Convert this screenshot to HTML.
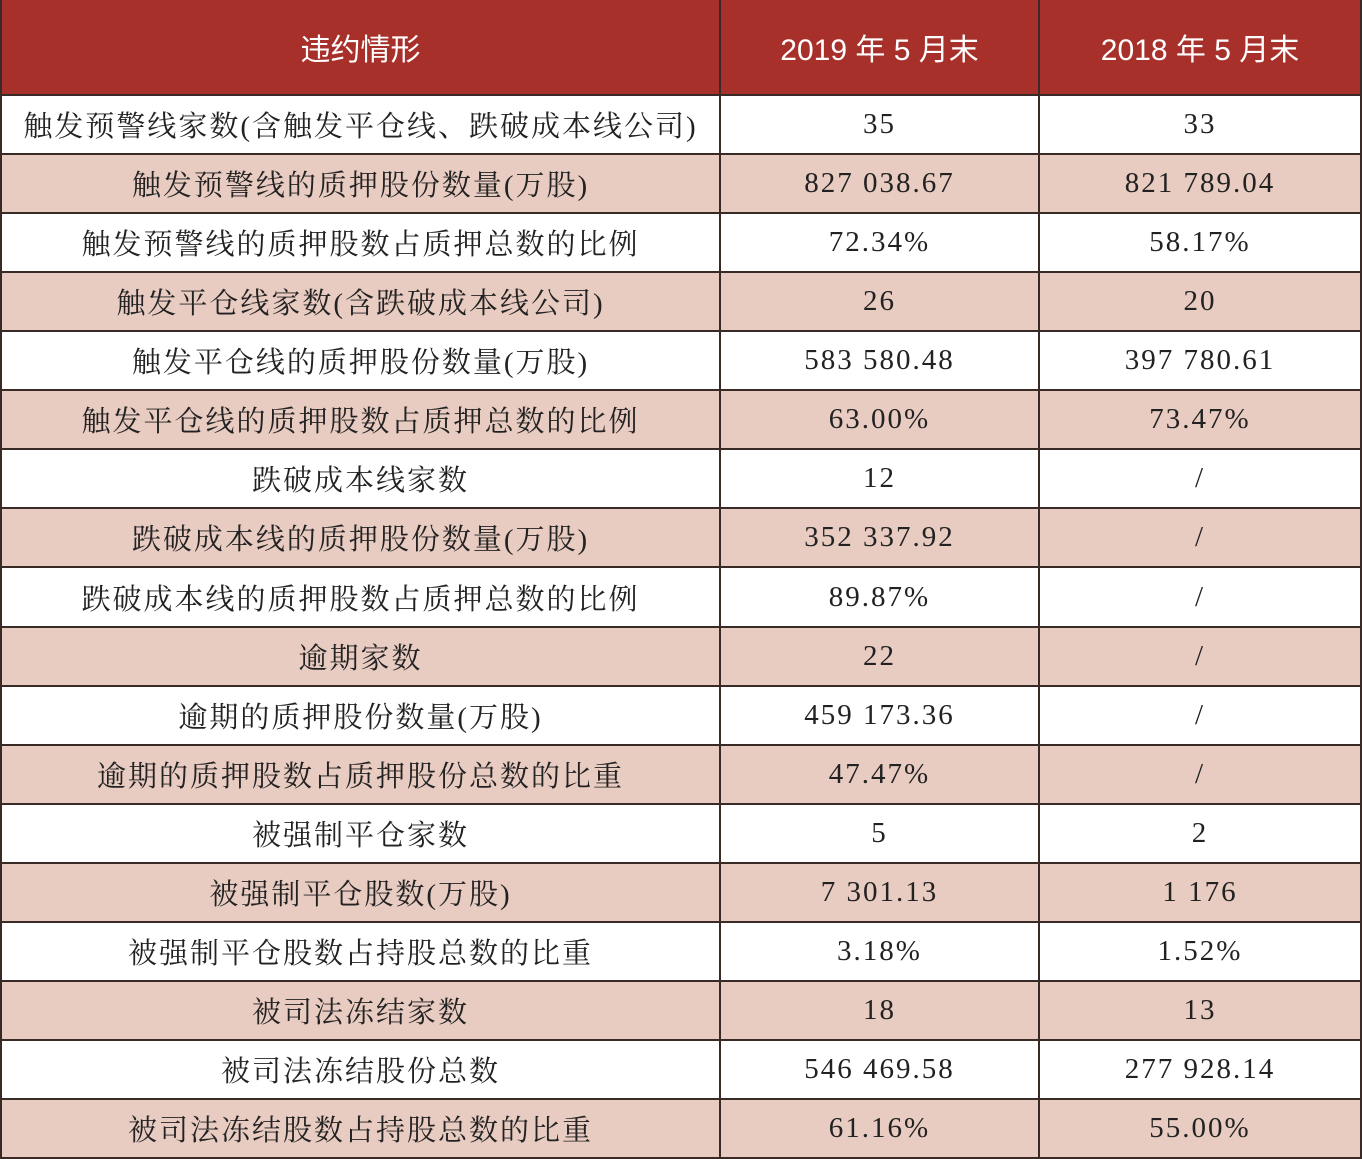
<!DOCTYPE html>
<html><head><meta charset="utf-8"><style>
body{margin:0;width:1362px;height:1159px;background:#fff;overflow:hidden}
.t{position:absolute;left:0;top:0;width:1362px;height:1159px}
.r{position:absolute;left:0;width:1362px;display:flex;box-sizing:border-box;border-bottom:2px solid #3a2a25}
.c{box-sizing:border-box;display:flex;align-items:center;justify-content:center;border-right:2px solid #3a2a25;height:100%;font-family:"Liberation Serif","Noto Serif CJK SC",serif;font-size:29px;color:#222;letter-spacing:2px}
.c1{width:721px;border-left:2px solid #3a2a25}.c2{width:319px}.c3{width:322px}
.h .c{color:#fff;font-family:"Liberation Sans","Noto Sans CJK SC",sans-serif;font-size:30px;letter-spacing:0}
.h{background:#a8302b}.p{background:#e8cbc1}
</style></head><body>
<div class="t" id="t"></div>
<script>
const rows=[["触发预警线家数(含触发平仓线、跌破成本线公司)","35","33"],["触发预警线的质押股份数量(万股)","827 038.67","821 789.04"],["触发预警线的质押股数占质押总数的比例","72.34%","58.17%"],["触发平仓线家数(含跌破成本线公司)","26","20"],["触发平仓线的质押股份数量(万股)","583 580.48","397 780.61"],["触发平仓线的质押股数占质押总数的比例","63.00%","73.47%"],["跌破成本线家数","12","/"],["跌破成本线的质押股份数量(万股)","352 337.92","/"],["跌破成本线的质押股数占质押总数的比例","89.87%","/"],["逾期家数","22","/"],["逾期的质押股份数量(万股)","459 173.36","/"],["逾期的质押股数占质押股份总数的比重","47.47%","/"],["被强制平仓家数","5","2"],["被强制平仓股数(万股)","7 301.13","1 176"],["被强制平仓股数占持股总数的比重","3.18%","1.52%"],["被司法冻结家数","18","13"],["被司法冻结股份总数","546 469.58","277 928.14"],["被司法冻结股数占持股总数的比重","61.16%","55.00%"]];
const t=document.getElementById('t');
function mk(cells,top,h,cls,name){const r=document.createElement('div');r.className='r '+cls;r.style.top=top+'px';r.style.height=h+'px';


cells.forEach((v,i)=>{const c=document.createElement('div');c.className='c c'+(i+1);c.textContent=v;


r.appendChild(c);});t.appendChild(r);}
mk(["违约情形","2019 年 5 月末","2018 年 5 月末"],0,96,'h','header-row');
const rh=(1159-96)/18;
rows.forEach((r,i)=>mk(r,Math.round(96+i*rh),Math.round(96+(i+1)*rh)-Math.round(96+i*rh),i%2?'p':'','data-row-'+(i+1)));
</script>
</body></html>
